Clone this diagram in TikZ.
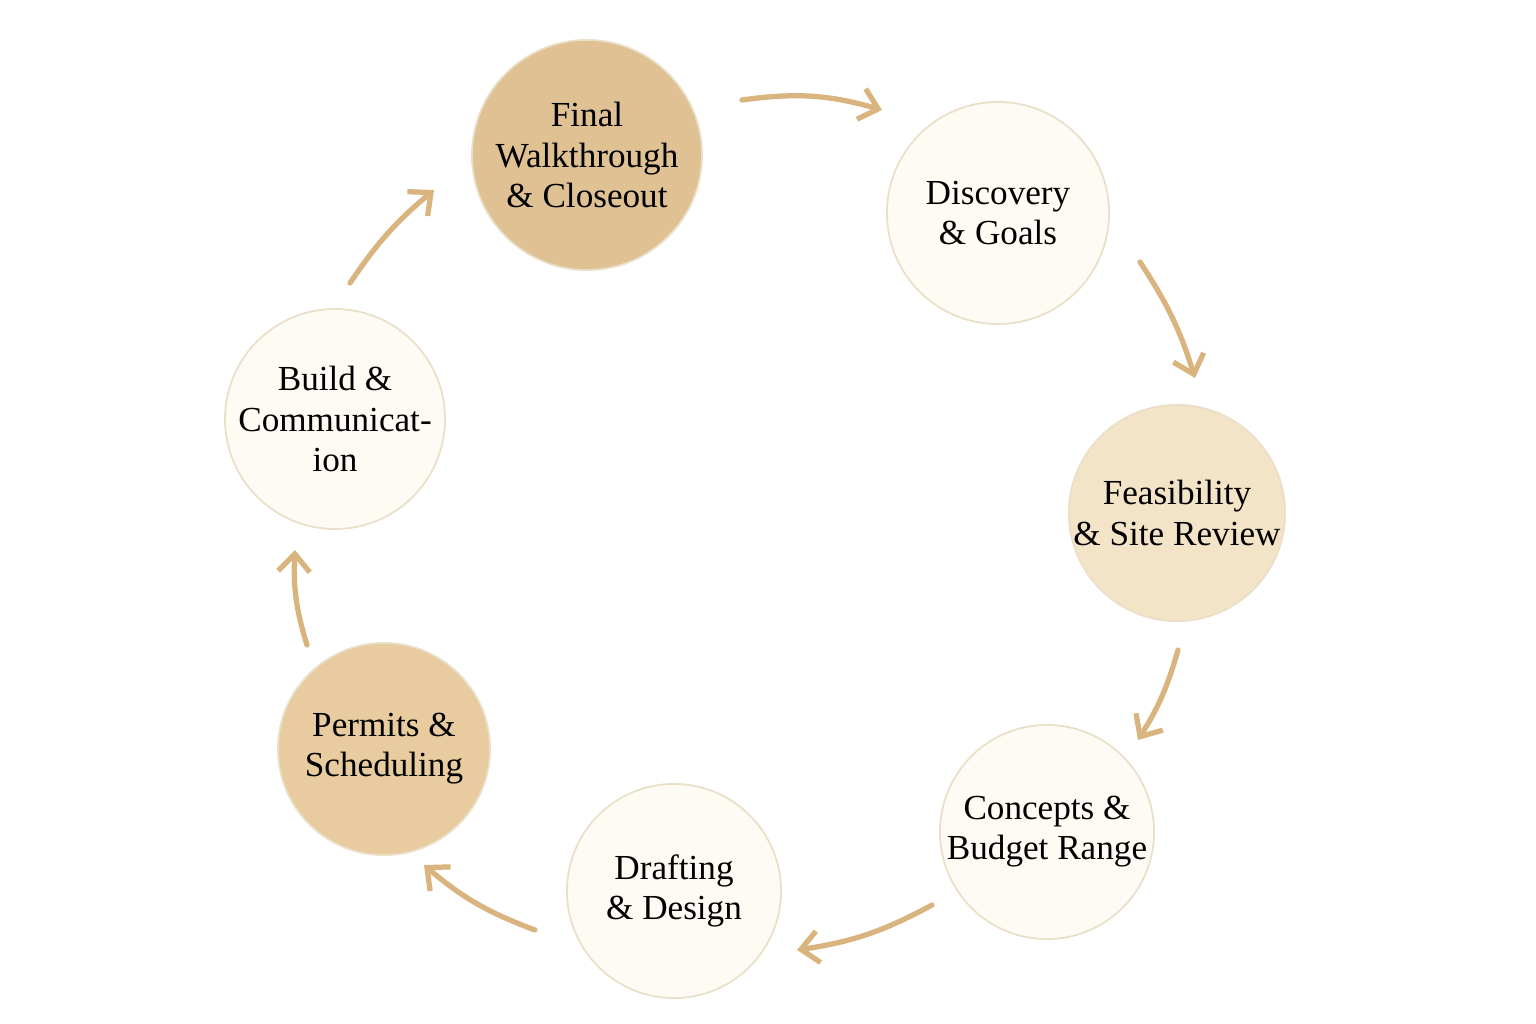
\documentclass[tikz,border=0pt]{standalone}
\usepackage{fontspec}
\setmainfont{Liberation Serif}
\usetikzlibrary{arrows.meta}
\definecolor{gold}{HTML}{DFC193}
\definecolor{goldb}{HTML}{E8CC9F}
\definecolor{pale}{HTML}{F3E3C7}
\definecolor{cream}{HTML}{FDFBF4}
\definecolor{edge}{HTML}{EADFC8}
\definecolor{arr}{HTML}{D9B47E}
\begin{document}
\begin{tikzpicture}[x=0.01cm,y=-0.01cm,
  stage/.style={circle,draw=edge,line width=0.5pt,align=center,inner sep=0pt,font=\fontsize{10}{11.4}\selectfont},
  flow/.style={draw=arr,line width=1.5pt,line cap=round,-{Straight Barb[length=5pt,width=9pt,line width=1.5pt]}}]
\useasboundingbox (0,0) rectangle (1536,1024);
\node[stage,fill=gold,minimum size=230\pgflinewidth*0+2.3cm] (f) at (587,155) {Final\\Walkthrough\\\& Closeout};
\node[stage,fill=cream,minimum size=2.22cm] (d) at (998,213) {Discovery\\\& Goals};
\node[stage,fill=pale,minimum size=2.16cm] (s) at (1177,513) {Feasibility\\\& Site Review};
\node[stage,fill=cream,minimum size=2.14cm] (c) at (1047,832) {Concepts \&\\Budget Range};
\node[stage,fill=cream,minimum size=2.14cm] (dr) at (674,891) {Drafting\\\& Design};
\node[stage,fill=goldb,minimum size=2.12cm] (p) at (384,749) {Permits \&\\Scheduling};
\node[stage,fill=cream,minimum size=2.18cm] (b) at (335,419) {Build \&\\Communicat-\\ion};
\coordinate (a1) at (742,100); \coordinate (a2) at (882,110);
\coordinate (b1) at (1140,262); \coordinate (b2) at (1195,378);
\coordinate (c1) at (1178,650); \coordinate (c2) at (1138,740);
\coordinate (d1) at (932,905); \coordinate (d2) at (797,950);
\coordinate (e1) at (535,930); \coordinate (e2) at (424,865);
\coordinate (g1) at (307,645); \coordinate (g2) at (295,550);
\coordinate (h1) at (350,283); \coordinate (h2) at (434,190);
\draw[flow] (a1) to[bend left=12] (a2);
\draw[flow] (b1) to[bend left=8] (b2);
\draw[flow] (c1) to[bend left=8] (c2);
\draw[flow] (d1) to[bend left=10] (d2);
\draw[flow] (e1) to[bend left=10] (e2);
\draw[flow] (g1) to[bend left=10] (g2);
\draw[flow] (h1) to[bend left=8] (h2);
\end{tikzpicture}
\end{document}
